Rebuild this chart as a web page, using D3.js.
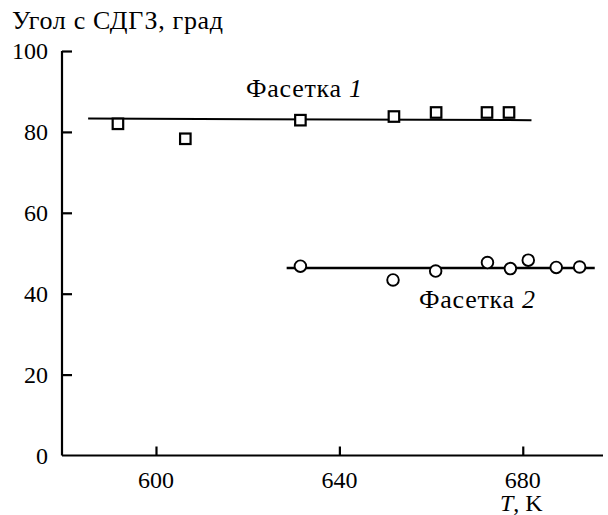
<!DOCTYPE html>
<html><head><meta charset="utf-8">
<script src="https://cdn.jsdelivr.net/npm/d3@7"></script>
<style>
body{margin:0;background:#fff;}
</style></head>
<body><svg id="c" width="608" height="515"></svg>
<script>
// Data
const facet1T = [591.7, 606.4, 631.5, 651.9, 661.1, 672.2, 677.0];
const facet1Angle = [82.0, 78.3, 82.9, 83.8, 84.8, 84.8, 84.8];
const fit1T = [585.2, 681.9];
const fit1Angle = [83.3, 82.9];
const facet2T = [631.5, 651.7, 661.0, 672.3, 677.3, 681.2, 687.3, 692.4];
const facet2Angle = [46.8, 43.4, 45.6, 47.7, 46.2, 48.3, 46.5, 46.6];
const fit2T = [628.5, 695.7];
const fit2Angle = [46.35, 46.35];
const xTicks = [600, 640, 680];
const yTicks = [0, 20, 40, 60, 80, 100];
const yTitle = "Угол с СДГЗ, град";

const FONT = "Liberation Serif";
const svg = d3.select("#c");
const x = d3.scaleLinear().domain([579.5, 697.5]).range([62, 603]);
const y = d3.scaleLinear().domain([0, 100]).range([455.5, 51]);
const fs = 24, fsLabel = 26;

// Axes
const xAxis = svg.append("g").attr("transform", `translate(0,${y(0)})`)
  .call(d3.axisTop(x).tickValues(xTicks).tickSize(9).tickFormat(""));
const yAxis = svg.append("g").attr("transform", `translate(${x.range()[0]},0)`)
  .call(d3.axisRight(y).tickValues(yTicks.filter(d=>d>0)).tickSize(10).tickFormat(""));
[xAxis, yAxis].forEach(g=>{
  g.select(".domain").attr("stroke","#000").attr("stroke-width",2.2);
  g.selectAll(".tick line").attr("stroke","#000").attr("stroke-width",2.2);
});
xAxis.select(".domain").attr("d", `M${x.range()[0]},0H${x.range()[1]}`);
yAxis.select(".domain").attr("d", `M0,${y(0)}V${y(100)}`);

function txt(sel, size){ return sel.attr("font-family", FONT).attr("font-size", size || fs).attr("fill","#000"); }

// Tick labels
txt(svg.append("g").selectAll("text").data(xTicks).join("text")
  .attr("x", d=>x(d)).attr("y", 488).attr("text-anchor","middle")).text(d=>d);
txt(svg.append("g").selectAll("text").data(yTicks).join("text")
  .attr("x", 48).attr("y", d=>y(d)).attr("dy","0.34em").attr("text-anchor","end")).text(d=>d);

// Titles
txt(svg.append("text").attr("x", 12).attr("y", 29)
  .attr("textLength", 211).attr("lengthAdjust","spacing"), fsLabel).text(yTitle);
const xt = txt(svg.append("text").attr("x", 500).attr("y", 511));
xt.append("tspan").attr("font-style","italic").text("T");
xt.append("tspan").text(", K");

// Fit lines
const line = d3.line().x(d=>x(d[0])).y(d=>y(d[1]));
svg.append("path").datum(d3.zip(fit1T, fit1Angle)).attr("d", line)
  .attr("stroke","#000").attr("stroke-width",2).attr("fill","none");
svg.append("path").datum(d3.zip(fit2T, fit2Angle)).attr("d", line)
  .attr("stroke","#000").attr("stroke-width",2.6).attr("fill","none");

// Markers
const s = 10.5;
svg.append("g").selectAll("rect").data(d3.zip(facet1T, facet1Angle)).join("rect")
  .attr("x", d=>x(d[0])-s/2).attr("y", d=>y(d[1])-s/2).attr("width", s).attr("height", s)
  .attr("fill","#fff").attr("stroke","#000").attr("stroke-width",2.2);
svg.append("g").selectAll("circle").data(d3.zip(facet2T, facet2Angle)).join("circle")
  .attr("cx", d=>x(d[0])).attr("cy", d=>y(d[1])).attr("r", 5.8)
  .attr("fill","#fff").attr("stroke","#000").attr("stroke-width",1.9);

// Series labels
const l1 = txt(svg.append("text").attr("x", 246).attr("y", 97)
  .attr("textLength", 116).attr("lengthAdjust","spacing"), fsLabel);
l1.append("tspan").text("Фасетка ");
l1.append("tspan").attr("font-style","italic").text("1");
const l2 = txt(svg.append("text").attr("x", 419).attr("y", 308)
  .attr("textLength", 116).attr("lengthAdjust","spacing"), fsLabel);
l2.append("tspan").text("Фасетка ");
l2.append("tspan").attr("font-style","italic").text("2");
</script></body></html>
